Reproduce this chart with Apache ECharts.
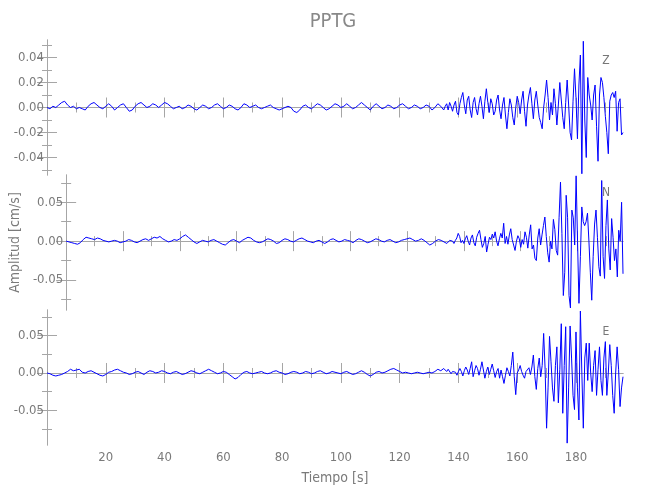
<!DOCTYPE html>
<html>
<head>
<meta charset="utf-8">
<script src="https://cdn.jsdelivr.net/npm/echarts@6/dist/echarts.min.js"></script>
<style>html,body{margin:0;padding:0;background:#fff}#c{width:650px;height:500px}</style>
</head>
<body>
<div id="c"></div>
<script>
// ---- data (amplitudes in units of 0.001 cm/s) ----
const titleText = 'PPTG';
const componentNames = ['Z', 'N', 'E'];
const quietStart = 0, quietStep = 1;      // s
const activeStart = 135.5, activeStep = 0.5; // s
const timeMin = 0, timeMax = 196;

const zQuiet = [
 0,-1,1,0,2,4,5,2,0,1,
 -1,0,-1,-2,1,3,4,2,0,-1,
 1,3,1,-2,0,2,3,0,-3,-2,
 1,3,4,2,0,1,3,2,0,2,
 4,3,1,-1,0,1,-1,0,2,1,
 -1,-2,0,2,1,-1,0,2,3,1,
 -1,0,2,1,-1,-2,0,3,2,0,
 1,2,0,-1,0,1,2,0,-1,-2,
 -1,0,1,0,-3,-4,-2,1,2,0,
 -1,1,3,2,0,-2,-1,1,3,2,
 0,1,3,1,-1,0,2,4,2,0,
 -2,1,3,1,-1,0,2,1,-1,0,
 2,3,1,-1,0,2,1,-1,0,2,
 1,-2,0,3,1,-2
];
const zActive = [
 1,3,-2,4,1,-3,2,5,-4,-6,
 3,8,12,2,-5,6,9,-2,-8,4,
 8,-1,-6,3,9,1,-9,5,15,4,
 -4,7,3,-6,-3,6,10,-2,-9,2,
 8,-6,-17,-4,7,2,-8,-14,0,9,
 4,-5,6,13,-3,-15,2,10,16,3,
 -9,6,13,2,-8,-12,-17,0,10,22,
 8,-10,4,-6,15,3,-14,2,20,6,
 -8,-17,4,22,2,-20,-26,5,31,8,
 -25,18,42,-53,53,-10,-40,24,10,2,
 -10,10,18,-15,-43,10,24,20,8,-7,
 -20,-37,5,10,12,8,13,-19,4,7,
 -22,-20
];

const nQuiet = [
 0,-1,-2,-3,-4,-2,2,5,4,3,
 2,4,3,1,0,-1,0,1,0,-2,
 -1,0,2,1,-1,-2,0,2,3,1,
 3,5,4,6,3,1,-1,0,2,1,
 3,6,8,5,2,-1,-3,-1,1,0,
 -1,1,2,0,-2,-4,-5,-2,1,2,
 0,-2,1,3,5,4,1,-1,-2,-1,
 1,3,2,0,-3,-2,1,3,2,0,
 -1,1,3,4,2,0,-1,-2,0,1,
 -1,-3,-1,2,3,1,-1,0,2,1,
 0,-2,1,3,2,0,-2,-1,1,3,
 2,0,-1,1,2,0,-2,-1,1,2,
 3,4,2,0,1,3,1,-2,-5,-3,
 0,2,1,-1,-3,1
];
const nActive = [
 2,0,-3,1,4,10,6,-2,1,-3,
 3,7,0,-5,4,8,-2,-6,5,10,
 14,2,-8,-3,6,-14,-4,5,2,9,
 4,12,0,-6,3,10,4,23,-3,6,
 -4,8,16,2,-5,-12,0,7,3,-8,
 2,-4,12,5,-9,8,21,-10,-5,-22,
 -25,4,16,-5,8,20,31,6,-15,-27,
 0,-10,28,15,-12,-18,30,76,10,-70,
 -40,59,30,-70,-86,40,30,-5,84,0,
 -80,-20,44,25,20,25,36,0,-40,-76,
 -20,22,40,5,-33,-45,78,-20,-48,20,
 53,-10,-37,29,5,-25,-10,-46,14,0,
 50,-42
];

const eQuiet = [
 0,-1,-3,-4,-3,-2,0,2,5,3,
 4,5,1,0,2,3,1,-1,-3,-4,
 -2,1,2,4,5,3,1,0,-2,-1,
 1,2,0,-2,1,3,2,0,1,3,
 2,0,-1,1,2,0,-2,-1,1,3,
 2,0,-1,1,3,5,3,1,-1,0,
 2,1,-2,-5,-8,-6,-2,1,2,0,
 -1,0,1,2,0,-1,0,2,3,1,
 0,-2,-1,1,2,1,-1,0,2,1,
 -1,0,2,3,1,-1,0,2,1,0,
 -1,1,2,0,-2,-1,1,3,1,-2,
 -4,-2,1,2,0,1,3,5,6,4,
 2,0,1,0,-1,0,1,0,-1,0,
 1,0,2,5,3,6
];
const eActive = [
 4,2,5,3,-1,2,4,1,-3,2,
 6,2,-4,3,8,4,-2,6,15,-5,
 3,10,6,-3,5,15,4,-7,2,8,
 -2,5,12,3,-6,2,6,-7,4,-5,
 -14,-3,7,2,-4,10,28,-5,-29,0,
 4,10,2,-3,-7,2,4,7,-2,8,
 24,-5,-22,6,20,-5,10,53,5,-74,
 -20,49,15,-20,-38,10,35,-40,5,66,
 -54,10,62,-94,-20,63,20,-30,-49,55,
 -20,-63,83,0,-74,20,40,-10,40,0,
 -25,10,30,-30,5,35,-10,-30,20,42,
 -30,0,38,10,-30,-54,0,35,5,-45,
 -20,-5
];

// axis ranges and tick values (cm/s)
const yRanges = [[-0.054, 0.054], [-0.0886, 0.0851], [-0.0965, 0.0844]];
const yMajor = [[-0.04,-0.02,0,0.02,0.04], [-0.05,0,0.05], [-0.05,0,0.05]];
const yMinor = [[-0.05,-0.03,-0.01,0.01,0.03,0.05], [-0.075,-0.025,0.025,0.075], [-0.075,-0.025,0.025,0.075]];
const xMajor = [0,20,40,60,80,100,120,140,160,180];
const xMinor = [10,30,50,70,90,110,130,150,170,190];
const xLabels = [20,40,60,80,100,120,140,160,180];

// ---- build ----
function buildSeries(quiet, active) {
  const pts = [];
  quiet.forEach((v, i) => pts.push([quietStart + i * quietStep, v / 1000]));
  active.forEach((v, i) => pts.push([activeStart + i * activeStep, v / 1000]));
  return pts;
}
const traces = [buildSeries(zQuiet, zActive), buildSeries(nQuiet, nActive), buildSeries(eQuiet, eActive)];

const FONT = "'Liberation Sans Narrow', 'DejaVu Sans Condensed', 'Liberation Sans', sans-serif";
const AX = '#a6a6a6';
const TX = '#7a7a7a';
const gridTops = [40, 175, 310];
const grids = gridTops.map(t => ({ left: 47, right: 27, top: t, height: 135, show: false }));

const xAxes = [], yAxes = [], series = [];
function tickAxis(base, values, len, showLine) {
  return Object.assign({
    type: 'value', min: base.min, max: base.max,
    axisLine: { show: showLine, lineStyle: { color: AX, width: 1 } },
    axisTick: { show: true, inside: true, length: len, customValues: values, lineStyle: { color: AX, width: 1 } },
    axisLabel: { show: false },
    splitLine: { show: false }, minorTick: { show: false }, minorSplitLine: { show: false }
  }, base.extra || {});
}
for (let g = 0; g < 3; g++) {
  const xb = { min: timeMin, max: timeMax };
  // bottom major (with labels on last panel)
  const bx = tickAxis(xb, xMajor, 10, true);
  bx.gridIndex = g; bx.position = 'bottom';
  if (g === 2) {
    bx.axisLabel = { show: true, customValues: xLabels, color: TX, fontFamily: FONT, fontSize: 13, margin: 6 };
    bx.name = 'Tiempo [s]'; bx.nameLocation = 'middle'; bx.nameGap = 26;
    bx.nameTextStyle = { color: TX, fontFamily: FONT, fontSize: 14 };
  }
  xAxes.push(bx);
  const bxm = tickAxis(xb, xMinor, 5, false); bxm.gridIndex = g; bxm.position = 'bottom'; xAxes.push(bxm);
  const tx = tickAxis(xb, xMajor, 10, true); tx.gridIndex = g; tx.position = 'top'; xAxes.push(tx);
  const txm = tickAxis(xb, xMinor, 5, false); txm.gridIndex = g; txm.position = 'top'; xAxes.push(txm);

  const yb = { min: yRanges[g][0], max: yRanges[g][1] };
  const ly = tickAxis(yb, yMajor[g], 10, true);
  ly.gridIndex = g; ly.position = 'left';
  ly.axisLabel = { show: true, customValues: yMajor[g], color: TX, fontFamily: FONT, fontSize: 13, margin: 3,
                   formatter: v => v.toFixed(2) };
  if (g === 1) {
    ly.name = 'Amplitud [cm/s]'; ly.nameLocation = 'middle'; ly.nameGap = 39;
    ly.nameTextStyle = { color: TX, fontFamily: FONT, fontSize: 14 };
  }
  yAxes.push(ly);
  const lym = tickAxis(yb, yMinor[g], 5, false); lym.gridIndex = g; lym.position = 'left'; yAxes.push(lym);
  const ry = tickAxis(yb, yMajor[g], 10, true); ry.gridIndex = g; ry.position = 'right'; yAxes.push(ry);
  const rym = tickAxis(yb, yMinor[g], 5, false); rym.gridIndex = g; rym.position = 'right'; yAxes.push(rym);

  series.push({
    type: 'line', xAxisIndex: 4 * g, yAxisIndex: 4 * g, data: traces[g],
    showSymbol: false, symbol: 'none', smooth: false, silent: true,
    lineStyle: { color: '#0000ff', width: 1 }, clip: true
  });
}

const labelY = [61, 193, 332];
const graphic = [
  { type: 'text', x: 333, y: 22, style: { text: titleText, fill: '#888', font: '20px ' + FONT, textAlign: 'center', textVerticalAlign: 'middle' } }
].concat(componentNames.map((n, i) => ({
  type: 'text', x: 606, y: labelY[i], z: 100,
  style: { text: n, fill: '#777', font: '12px ' + FONT, textAlign: 'center', textVerticalAlign: 'middle' }
})));

const chart = echarts.init(document.getElementById('c'), null, { renderer: 'canvas' });
chart.setOption({
  animation: false,
  backgroundColor: '#fff',
  grid: grids,
  xAxis: xAxes,
  yAxis: yAxes,
  series: series,
  graphic: graphic
});
</script>
</body>
</html>
